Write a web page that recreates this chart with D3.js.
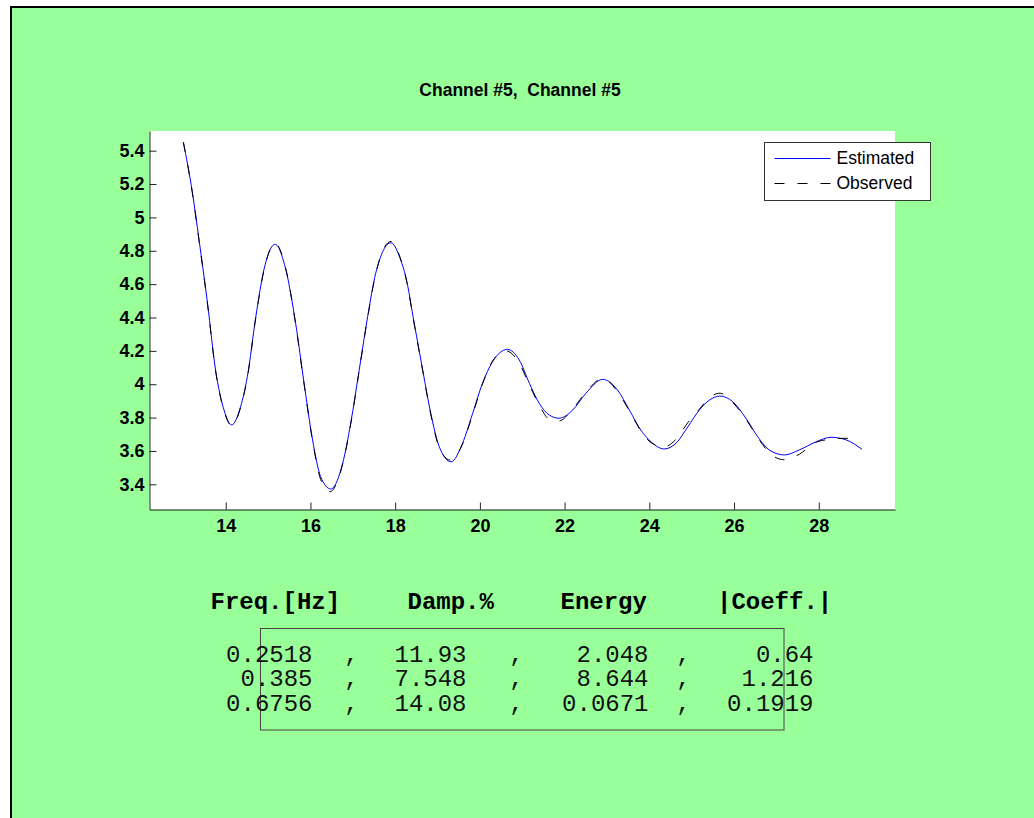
<!DOCTYPE html>
<html>
<head>
<meta charset="utf-8">
<script src="https://cdn.jsdelivr.net/npm/d3@7"></script>
<style>
  body { margin: 0; background: #fff; }
  svg { display: block; }
  .tick text { font-family: "Liberation Sans", Arial, sans-serif; font-weight: bold; font-size: 18px; fill: #000; }
  .tick line, .domain { stroke: #222; }
</style>
</head>
<body>
<div id="chart"></div>
<script>
// chart data
var title = "Channel #5,  Channel #5";
var seriesNames = ["Estimated", "Observed"];

var estTime = [13.00, 13.21, 13.37, 13.57, 13.76, 13.96, 14.14, 14.35, 14.51, 14.71, 14.90, 15.165,
  15.42, 15.65, 15.85, 16.05, 16.24, 16.48, 16.76, 16.95, 17.15, 17.35, 17.54, 17.90,
  18.13, 18.25, 18.45, 18.65, 18.84, 19.04, 19.32, 19.59, 19.83, 20.06, 20.30, 20.65,
  20.93, 21.17, 21.40, 21.64, 21.87, 22.19, 22.50, 22.90, 23.25, 23.53, 23.80, 24.04,
  24.35, 24.63, 24.91, 25.18, 25.42, 25.67, 25.97, 26.28, 26.56, 26.83, 27.19, 27.54,
  27.94, 28.29, 28.65, 29.02];
var estValues = [5.45, 5.154, 4.865, 4.485, 4.085, 3.845, 3.756, 3.865, 4.045, 4.405, 4.685, 4.839,
  4.685, 4.365, 4.005, 3.666, 3.446, 3.372, 3.526, 3.766, 4.085, 4.405, 4.665, 4.848,
  4.745, 4.645, 4.365, 4.085, 3.826, 3.626, 3.535, 3.646, 3.826, 4.005, 4.135, 4.209,
  4.145, 4.005, 3.886, 3.815, 3.796, 3.845, 3.945, 4.029, 3.965, 3.845, 3.725, 3.655,
  3.612, 3.646, 3.745, 3.845, 3.905, 3.929, 3.895, 3.796, 3.685, 3.606, 3.576, 3.606,
  3.655, 3.682, 3.666, 3.61];

var obsTime = [13.00, 13.21, 13.37, 13.57, 13.76, 13.96, 14.14, 14.35, 14.51, 14.71, 14.90, 15.165,
  15.42, 15.65, 15.85, 16.05, 16.24, 16.46, 16.76, 16.95, 17.15, 17.35, 17.54, 17.90,
  18.13, 18.25, 18.45, 18.65, 18.84, 19.04, 19.30, 19.59, 19.83, 20.06, 20.30, 20.62,
  20.93, 21.17, 21.40, 21.64, 21.87, 22.19, 22.50, 22.90, 23.25, 23.53, 23.80, 24.04,
  24.35, 24.63, 24.91, 25.18, 25.42, 25.67, 25.97, 26.28, 26.56, 26.83, 27.17, 27.54,
  27.90, 28.27, 28.65, 28.80];
var obsValues = [5.45, 5.15, 4.86, 4.48, 4.08, 3.84, 3.752, 3.86, 4.04, 4.40, 4.68, 4.845,
  4.69, 4.36, 4.00, 3.66, 3.43, 3.356, 3.52, 3.76, 4.08, 4.40, 4.66, 4.856,
  4.75, 4.64, 4.36, 4.08, 3.82, 3.62, 3.545, 3.64, 3.82, 4.00, 4.14, 4.20,
  4.125, 3.995, 3.875, 3.79, 3.78, 3.852, 3.95, 4.036, 3.955, 3.84, 3.72, 3.65,
  3.625, 3.67, 3.77, 3.85, 3.92, 3.946, 3.89, 3.79, 3.68, 3.59, 3.548, 3.58,
  3.648, 3.67, 3.676, 3.67];

var xTicks = [14, 16, 18, 20, 22, 24, 26, 28];
var yTicks = [3.4, 3.6, 3.8, 4, 4.2, 4.4, 4.6, 4.8, 5, 5.2, 5.4];

var tableHeaders = ["Freq.[Hz]", "Damp.%", "Energy", "|Coeff.|"];
var freqCol = ["0.2518", "0.385", "0.6756"];
var dampCol = ["11.93", "7.548", "14.08"];
var energyCol = ["2.048", "8.644", "0.0671"];
var coeffCol = ["0.64", "1.216", "0.1919"];

// figure size
var svgWidth = 1034;
var svgHeight = 818;

// axes box in pixels
var axLeft = 149.5, axRight = 895, axTop = 131, axBottom = 509.5;

var svg = d3.select("#chart")
  .append("svg")
  .attr("width", svgWidth)
  .attr("height", svgHeight);

// green figure background with black top/left edge
svg.append("rect")
  .attr("x", 10).attr("y", 6)
  .attr("width", svgWidth - 10).attr("height", svgHeight - 6)
  .attr("fill", "#99ff99");
svg.append("line")
  .attr("x1", 10).attr("x2", svgWidth).attr("y1", 7).attr("y2", 7)
  .attr("stroke", "#000").attr("stroke-width", 2);
svg.append("line")
  .attr("x1", 11).attr("x2", 11).attr("y1", 6).attr("y2", svgHeight)
  .attr("stroke", "#000").attr("stroke-width", 2);

// white plotting area
svg.append("rect")
  .attr("x", axLeft).attr("y", axTop)
  .attr("width", axRight - axLeft).attr("height", axBottom - axTop)
  .attr("fill", "#fff");

// scales
var xScale = d3.scaleLinear().domain([12.2, 29.8]).range([axLeft, axRight]);
var yScale = d3.scaleLinear().domain([3.249, 5.518]).range([axBottom, axTop]);

// axes, ticks pointing inward like matlab
var bottomAxis = d3.axisBottom(xScale)
  .tickValues(xTicks)
  .tickFormat(d3.format("~g"))
  .tickSizeInner(-7)
  .tickSizeOuter(0)
  .tickPadding(10);

var leftAxis = d3.axisLeft(yScale)
  .tickValues(yTicks)
  .tickFormat(d3.format("~g"))
  .tickSizeInner(-7)
  .tickSizeOuter(0)
  .tickPadding(5);

svg.append("g")
  .attr("transform", `translate(0, ${axBottom})`)
  .call(bottomAxis)
  .call(g => g.selectAll("text").attr("fill", "#000"));

svg.append("g")
  .attr("transform", `translate(${axLeft}, 0)`)
  .call(leftAxis)
  .call(g => g.selectAll("text").attr("fill", "#000"));

// lines
var estData = estTime.map((t, i) => [t, estValues[i]]);
var obsData = obsTime.map((t, i) => [t, obsValues[i]]);

var line = d3.line()
  .x(d => xScale(d[0]))
  .y(d => yScale(d[1]))
  .curve(d3.curveMonotoneX);

svg.append("path")
  .datum(estData)
  .attr("d", line)
  .attr("fill", "none")
  .attr("stroke", "#0000ff")
  .attr("stroke-width", 1);

svg.append("path")
  .datum(obsData)
  .attr("d", line)
  .attr("fill", "none")
  .attr("stroke", "#000")
  .attr("stroke-width", 1)
  .attr("stroke-dasharray", "10,13");

// title
svg.append("text")
  .attr("x", 520)
  .attr("y", 96)
  .attr("text-anchor", "middle")
  .style("font-family", "'Liberation Sans', Arial, sans-serif")
  .style("font-weight", "bold")
  .style("font-size", "17.5px")
  .attr("xml:space", "preserve")
  .text(title);

// legend
var legend = svg.append("g").attr("transform", "translate(764.5, 142.5)");
legend.append("rect")
  .attr("width", 166).attr("height", 58)
  .attr("fill", "#fff")
  .attr("stroke", "#333");

var legendStyles = [
  { color: "#0000ff", dash: null },
  { color: "#000", dash: "10,13" }
];

seriesNames.forEach(function(name, i) {
  var ly = 16 + i * 25;
  legend.append("line")
    .attr("x1", 10).attr("x2", 66)
    .attr("y1", ly).attr("y2", ly)
    .attr("stroke", legendStyles[i].color)
    .attr("stroke-dasharray", legendStyles[i].dash);
  legend.append("text")
    .attr("x", 72)
    .attr("y", ly + 5.5)
    .style("font-family", "'Liberation Sans', Arial, sans-serif")
    .style("font-size", "17.5px")
    .text(name);
});

// results table below the plot
var monoFont = "'Liberation Mono', 'Courier New', monospace";
var headerX = [210.5, 407.5, 560.5, 717];

tableHeaders.forEach(function(h, i) {
  svg.append("text")
    .attr("x", headerX[i])
    .attr("y", 609)
    .style("font-family", monoFont)
    .style("font-weight", "bold")
    .style("font-size", "24px")
    .text(h);
});

svg.append("rect")
  .attr("x", 260.5).attr("y", 628.5)
  .attr("width", 523.5).attr("height", 101.5)
  .attr("fill", "none")
  .attr("stroke", "#444");

var columns = [freqCol, dampCol, energyCol, coeffCol];
var colRight = [312.5, 466.5, 648.5, 813.5];
var commaX = [351.5, 516.5, 683.5];
var rowY = [661.5, 686, 710.5];

rowY.forEach(function(y, r) {
  columns.forEach(function(col, c) {
    svg.append("text")
      .attr("x", colRight[c])
      .attr("y", y)
      .attr("text-anchor", "end")
      .style("font-family", monoFont)
      .style("font-size", "24px")
      .attr("fill", "#111")
      .text(col[r]);
  });
  commaX.forEach(function(cx) {
    svg.append("text")
      .attr("x", cx)
      .attr("y", y)
      .attr("text-anchor", "middle")
      .style("font-family", monoFont)
      .style("font-size", "24px")
      .attr("fill", "#111")
      .text(",");
  });
});
</script>
</body>
</html>
